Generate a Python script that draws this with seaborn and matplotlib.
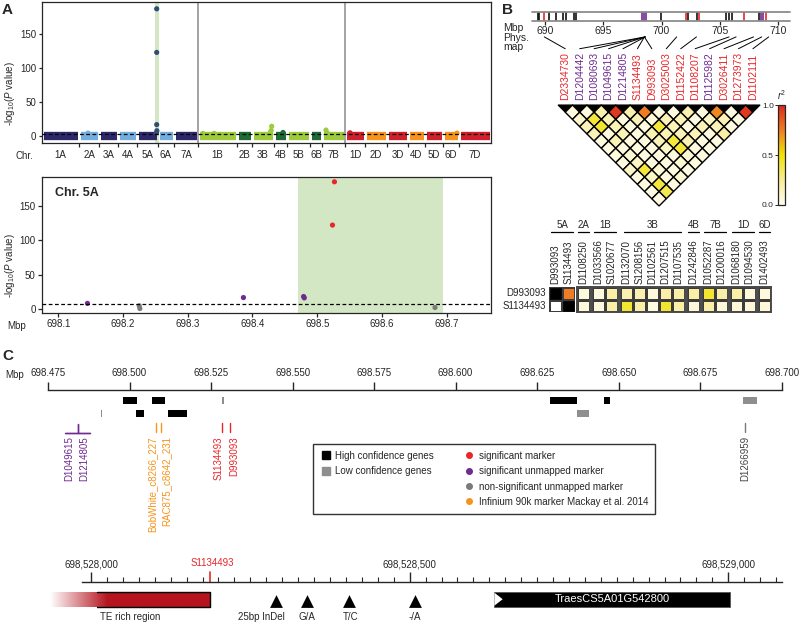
import numpy as np
import pandas as pd
import matplotlib
matplotlib.use('Agg')
import matplotlib.pyplot as plt
import seaborn as sns
from matplotlib.colors import LinearSegmentedColormap
from matplotlib.patches import Polygon, Rectangle, ConnectionPatch
from matplotlib.lines import Line2D
from matplotlib.ticker import FixedLocator, FuncFormatter
from matplotlib.cm import ScalarMappable
from matplotlib.colors import Normalize

sns.set_style('ticks')
plt.rcParams['font.family'] = ['Liberation Sans', 'DejaVu Sans']
plt.rcParams['mathtext.fontset'] = 'custom'
plt.rcParams['mathtext.rm'] = 'Liberation Sans'
plt.rcParams['mathtext.it'] = 'Liberation Sans:italic'
plt.rcParams['font.size'] = 7
plt.rcParams['axes.linewidth'] = 0.9

# ---------------- data ----------------
# A: genome-wide scan (chromosome widths = relative marker counts)
chroms = ['1A', '2A', '3A', '4A', '5A', '6A', '7A',
          '1B', '2B', '3B', '4B', '5B', '6B', '7B',
          '1D', '2D', '3D', '4D', '5D', '6D', '7D']
chrom_markers = [37, 20, 19, 19, 21, 16, 24, 39, 15, 22, 13, 23, 12, 23,
                 20, 22, 21, 17, 18, 16, 32]
chrom_colors = ['#2d2869', '#74aee0', '#2d2869', '#74aee0', '#2d2869', '#74aee0', '#2d2869',
                '#9dcb3b', '#1f6b37', '#9dcb3b', '#1f6b37', '#9dcb3b', '#1f6b37', '#9dcb3b',
                '#d0202c', '#f7941d', '#d0202c', '#f7941d', '#d0202c', '#f7941d', '#d0202c']
peak_chrom = ['5A', '5A', '5A', '5A', '5A', '3B', '3B', '3B', '7B', '7B', '4B', '2A', '1D', '1B', '1B', '6D']
peak_offset = [19.7, 19.7, 19.7, 19.9, 19.5, 19.7, 19.2, 18.5, 4, 5, 9, 9, 5, 5, 16, 14]
peak_logp = [187, 123, 17, 8, 5, 14.5, 8.5, 6, 9, 5, 5.5, 4.5, 5, 4, 4, 4.5]
genome_threshold = 3

# A: chromosome 5A detail
zoom_pos = [698.145, 698.225, 698.226, 698.386, 698.479, 698.480, 698.5236, 698.5266, 698.682]
zoom_logp = [8, 4.5, 0.5, 16.5, 18, 16, 122, 185, 2]
zoom_class = ['unmapped', 'nonsig', 'nonsig', 'unmapped', 'unmapped', 'unmapped', 'sig', 'sig', 'nonsig']
zoom_threshold = 7.3
qtl_region = (698.471, 698.694)

# B: physical map and LD
phys_pos = [689.37, 689.51, 689.94, 690.37, 690.94, 691.57, 691.77, 692.49, 692.66,
            698.33, 698.51, 698.68, 699.97, 702.11, 702.31, 703.03, 703.2,
            705.55, 705.78, 706.09, 707.04, 708.36, 708.56, 708.67, 708.96]
phys_class = ['k', 'k', 'sig', 'k', 'k', 'k', 'k', 'k', 'k',
              'unmapped', 'unmapped', 'unmapped', 'k', 'sig', 'k', 'k', 'sig',
              'k', 'k', 'k', 'sig', 'k', 'unmapped', 'unmapped', 'sig']
ld_markers = ['D2334730', 'D1204442', 'D1080693', 'D1049615', 'D1214805', 'S1134493', 'D993093',
              'D3025003', 'D1152422', 'D1108207', 'D1125982', 'D3026411', 'D1273973', 'D1102111']
ld_class = ['sig', 'unmapped', 'unmapped', 'unmapped', 'unmapped', 'sig', 'sig',
            'sig', 'sig', 'sig', 'unmapped', 'sig', 'sig', 'sig']
ld_map_pos = [689.94, 698.6, 698.6, 698.6, 698.6, 698.53, 698.53,
              701.3, 703.0, 705.8, 706.4, 707.9, 708.6, 709.2]
# r2 between marker i and i+k, one list per k
ld_r2_rows = [
    [0.05, 0.05, 0.18, 0.95, 0.18, 0.75, 0.05, 0.05, 0.18, 0.05, 0.72, 0.05, 0.95],
    [0.10, 0.40, 0.16, 0.05, 0.16, 0.05, 0.16, 0.16, 0.05, 0.12, 0.16, 0.05],
    [0.16, 0.42, 0.16, 0.05, 0.05, 0.40, 0.16, 0.05, 0.16, 0.16, 0.05],
    [0.16, 0.05, 0.16, 0.05, 0.16, 0.16, 0.16, 0.16, 0.05, 0.20],
    [0.05, 0.16, 0.05, 0.05, 0.16, 0.40, 0.16, 0.05, 0.05],
    [0.05, 0.05, 0.05, 0.05, 0.12, 0.40, 0.05, 0.05],
    [0.05, 0.08, 0.05, 0.05, 0.05, 0.08, 0.05],
    [0.05, 0.12, 0.05, 0.05, 0.08, 0.05],
    [0.12, 0.40, 0.08, 0.05, 0.05],
    [0.05, 0.12, 0.05, 0.08],
    [0.05, 0.40, 0.05],
    [0.05, 0.36],
    [0.05],
]
cross_groups = ['5A', '2A', '1B', '3B', '4B', '7B', '1D', '6D']
cross_markers = [['D993093', 'S1134493'], ['D1108250'], ['D1033566', 'S1020677'],
                 ['D1132070', 'S1208156', 'D1102561', 'D1207515', 'D1107535'],
                 ['D1242846'], ['D1052287', 'D1200016'], ['D1068180', 'D1094530'], ['D1402493']]
cross_rows = ['D993093', 'S1134493']
cross_r2_D993093 = [[np.nan, 0.75], [0.06], [0.06, 0.2], [0.18, 0.18, 0.06, 0.2, 0.2],
                    [0.2], [0.42, 0.2], [0.2, 0.06], [0.06]]
cross_r2_S1134493 = [[np.nan, np.nan], [0.06], [0.06, 0.2], [0.42, 0.2, 0.05, 0.42, 0.2],
                     [0.07], [0.2, 0.07], [0.07, 0.07], [0.07]]

# C: QTL interval genes and markers (Mbp)
gene_start = [698.4980, 698.5068, 698.5283, 698.6288, 698.6454, 698.6880,
              698.4911, 698.5021, 698.5117, 698.6373]
gene_end = [698.5022, 698.5108, 698.5289, 698.6371, 698.6473, 698.6923,
            698.4915, 698.5045, 698.5177, 698.6409]
gene_track = [1, 1, 1, 1, 1, 1, 2, 2, 2, 2]
gene_conf = ['high', 'high', 'low', 'high', 'high', 'low', 'low', 'high', 'high', 'low']
c_marker_names = ['D1049615', 'D1214805', 'BobWhite_c8266_227', 'RAC875_c8642_231',
                  'S1134493', 'D993093', 'D1266959']
c_marker_pos = [698.4841, 698.4841, 698.5080, 698.5098, 698.5283, 698.5309, 698.6888]
c_marker_class = ['unmapped', 'unmapped', 'infinium', 'infinium', 'sig', 'sig', 'nonsig']

# C: gene-level view (bp)
te_start, te_end = 698527936, 698528186
s1134493_bp = 698528186
variant_pos = [698528290, 698528339, 698528405, 698528508]
variant_labels = ['25bp InDel', 'G/A', 'T/C', '-/A']
candidate_gene = 'TraesCS5A01G542800'
candidate_start, candidate_end = 698528632, 698529003

# ---------------- styles ----------------
class_colors = {'sig': '#e8262b', 'unmapped': '#6f2b90', 'nonsig': '#7a7a7a',
                'infinium': '#f7941d', 'k': '#111111'}
ld_cmap = LinearSegmentedColormap.from_list(
    'ld', [(0, '#fffdf0'), (0.1, '#fdf6cc'), (0.25, '#f8ec94'), (0.5, '#f2e200'),
           (0.75, '#ef7d22'), (1.0, '#dc281c')])

W, H = 800, 624
fig = plt.figure(figsize=(8, 6.24), dpi=100)


def add_px_axes(x0, y0, x1, y1):
    return fig.add_axes([x0 / W, 1 - y1 / H, (x1 - x0) / W, (y1 - y0) / H])


def fig_text(x, y, s, **kw):
    fig.text(x / W, 1 - y / H, s, **kw)


# ---------------- A top: Manhattan ----------------
ax1 = add_px_axes(42, 2, 491, 143)
ends = np.cumsum(chrom_markers)
starts = ends - np.array(chrom_markers)
chrom_start = dict(zip(chroms, starts))
for s0, e0, col in zip(starts, ends, chrom_colors):
    ax1.plot([s0 + 1.5, e0 - 1.5], [0.3, 0.3], color=col, lw=6.0, solid_capstyle='butt')
ax1.axvspan(chrom_start['5A'] + 17.7, chrom_start['5A'] + 21.7, color='#d4e7c5', lw=0, zorder=0)
peaks = pd.DataFrame({'chrom': peak_chrom, 'logp': peak_logp})
peaks['x'] = [chrom_start[c] + o for c, o in zip(peak_chrom, peak_offset)]
pal = dict(zip(chroms, chrom_colors))
pal['5A'] = '#2f4f72'
sns.scatterplot(data=peaks, x='x', y='logp', hue='chrom', palette=pal, s=14,
                linewidth=0, legend=False, ax=ax1, zorder=3)
for b in (ends[6], ends[13]):
    ax1.axvline(b, color='#a3a3a3', lw=1.4, zorder=1)
ax1.axhline(genome_threshold, color='black', lw=0.9, ls=(0, (3, 2)), zorder=4)
ax1.set_xlim(0, ends[-1])
ax1.set_ylim(-10, 197)
ax1.set_yticks([0, 50, 100, 150])
ax1.set_xticks(list(ends[:-1]))
ax1.set_xticklabels([])
ax1.set_xticks((starts + ends) / 2, minor=True)
ax1.set_xticklabels(chroms, minor=True)
ax1.tick_params(axis='x', which='minor', length=0, pad=5, labelsize=7)
ax1.tick_params(axis='x', which='major', length=3, width=0.9)
ax1.tick_params(axis='y', length=2.5, width=0.9, labelsize=7, pad=1.5)
ax1.set_xlabel('')
ax1.set_ylabel(r'-log$_{10}$($P$ value)', fontsize=7)
ax1.yaxis.set_label_coords(-0.056, 0.35)
fig_text(24, 156, 'Chr.', ha='center', va='center', fontsize=7)

# ---------------- A bottom: chr 5A ----------------
ax2 = add_px_axes(42, 177, 491, 313)
ax2.axvspan(*qtl_region, color='#d4e7c5', lw=0, zorder=0)
zdf = pd.DataFrame({'pos': zoom_pos, 'logp': zoom_logp, 'cls': zoom_class})
sns.scatterplot(data=zdf, x='pos', y='logp', hue='cls', palette=class_colors, s=14,
                linewidth=0, legend=False, ax=ax2, zorder=3)
ax2.axhline(zoom_threshold, color='black', lw=0.9, ls=(0, (3, 2)), zorder=4)
ax2.set_xlim(698.0748, 698.7685)
ax2.set_ylim(-6, 192)
ax2.set_xticks([698.1, 698.2, 698.3, 698.4, 698.5, 698.6, 698.7])
ax2.set_xticklabels(['698.1', '698.2', '698.3', '698.4', '698.5', '698.6', '698.7'])
ax2.set_yticks([0, 50, 100, 150])
ax2.tick_params(axis='both', length=3, width=0.9, labelsize=7, pad=1.5)
ax2.set_xlabel('')
ax2.set_ylabel(r'-log$_{10}$($P$ value)', fontsize=7)
ax2.yaxis.set_label_coords(-0.056, 0.35)
ax2.text(0.03, 0.86, 'Chr. 5A', transform=ax2.transAxes, fontsize=9, fontweight='bold')
fig_text(17, 326, 'Mbp', ha='center', va='center', fontsize=7)

fig_text(2, 3, 'A', ha='left', va='top', fontsize=11, fontweight='bold')
fig_text(502, 3, 'B', ha='left', va='top', fontsize=11, fontweight='bold')
fig_text(2, 349, 'C', ha='left', va='top', fontsize=11, fontweight='bold')

# ---------------- B: physical map ----------------
axp = add_px_axes(535, 11.7, 787, 20.7)
axp.set_xlim(689.14, 710.77)
axp.set_ylim(0, 1)
axp.vlines(phys_pos, 0, 1, colors=[class_colors[c] for c in phys_class], lw=1.2)
for side in ('left', 'right'):
    axp.spines[side].set_visible(False)
for side in ('top', 'bottom'):
    axp.spines[side].set_color('#8c8c8c')
    axp.spines[side].set_linewidth(1.3)
for xa, xb in ((688.87, 689.07), (710.84, 711.04)):
    for yy in (0, 1):
        axp.plot([xa, xb], [yy, yy], color='#8c8c8c', lw=1.3, clip_on=False)
axp.set_yticks([])
axp.set_xticks([690, 695, 700, 705, 710])
axp.tick_params(axis='x', length=3, width=0.9, labelsize=7.5, pad=1)
fig_text(503, 28, 'Mbp', ha='left', va='center', fontsize=7.5)
fig_text(503, 38, 'Phys.', ha='left', va='center', fontsize=7.5)
fig_text(503, 47, 'map', ha='left', va='center', fontsize=7.5)

# ---------------- B: LD triangle ----------------
axl = add_px_axes(558, 105, 760.1, 206)
axl.set_xlim(-0.5, 13.5)
axl.set_ylim(-7, 0)
axl.axis('off')
for i in range(len(ld_markers)):
    axl.add_patch(Polygon([(i - 0.5, 0), (i, -0.5), (i + 0.5, 0)], closed=True,
                          facecolor='black', edgecolor='black', lw=0.8, clip_on=False))
for k, row in enumerate(ld_r2_rows, start=1):
    for i, r in enumerate(row):
        cx, cy = i + k / 2, -k / 2
        axl.add_patch(Polygon([(cx - 0.5, cy), (cx, cy + 0.5), (cx + 0.5, cy), (cx, cy - 0.5)],
                              closed=True, facecolor=ld_cmap(r), edgecolor='black', lw=1.0,
                              clip_on=False))
for i, (name, cls) in enumerate(zip(ld_markers, ld_class)):
    axl.text(i, 0.35, name, rotation=90, ha='center', va='bottom', fontsize=7.5,
             color=class_colors[cls], clip_on=False)
for i, mpos in enumerate(ld_map_pos):
    con = ConnectionPatch(xyA=(mpos, -1.8), coordsA=axp.transData,
                          xyB=(i, 3.9), coordsB=axl.transData, color='black', lw=0.7)
    fig.add_artist(con)

axcb = add_px_axes(778, 105, 785, 205)
cb = fig.colorbar(ScalarMappable(norm=Normalize(0, 1), cmap=ld_cmap), cax=axcb, ticks=[0, 0.5, 1])
cb.ax.yaxis.set_ticks_position('left')
cb.ax.set_yticklabels(['0.0', '0.5', '1.0'])
cb.ax.tick_params(labelsize=6, length=2, width=0.7, pad=1)
cb.outline.set_linewidth(0.9)
axcb.text(0.5, 1.03, r'$r^2$', transform=axcb.transAxes, ha='center', va='bottom', fontsize=7)

# ---------------- B: cross-chromosome LD ----------------
col_w, gap = 13, 2
x0 = 549
for g, (grp, names) in enumerate(zip(cross_groups, cross_markers)):
    w = col_w * len(names)
    axg = add_px_axes(x0, 287, x0 + w, 312)
    df = pd.DataFrame([cross_r2_D993093[g], cross_r2_S1134493[g]], index=cross_rows, columns=names)
    sns.heatmap(df, ax=axg, cmap=ld_cmap, vmin=0, vmax=1, cbar=False, mask=df.isna(),
                linewidths=1, linecolor='#3c3c3c', xticklabels=True, yticklabels=(g == 0))
    if grp == '5A':
        for r, c in ((0, 0), (1, 1)):
            axg.add_patch(Rectangle((c, r), 1, 1, facecolor='black', edgecolor='#3c3c3c', lw=1))
    else:
        for sp in axg.spines.values():
            sp.set_visible(True)
            sp.set_color('#4a4a4a')
            sp.set_linewidth(1.4)
    axg.xaxis.tick_top()
    axg.set_xticklabels(names, rotation=90, fontsize=7)
    axg.tick_params(length=0, pad=2)
    if g == 0:
        axg.set_yticklabels(cross_rows, rotation=0, fontsize=7)
    axg.set_xlabel('')
    axg.set_ylabel('')
    axg.plot([0.06, 0.94], [3.22, 3.22], transform=axg.transAxes, color='black', lw=0.9, clip_on=False)
    axg.text(0.5, 3.3, grp, transform=axg.transAxes, ha='center', va='bottom', fontsize=7)
    x0 += w + gap

# ---------------- C: QTL interval ----------------
axc = add_px_axes(48, 390, 781.7, 540)
axc.set_xlim(698.475, 698.700)
axc.set_ylim(150, 0)
for sp in ('left', 'right', 'bottom'):
    axc.spines[sp].set_visible(False)
axc.spines['top'].set_linewidth(1.0)
axc.xaxis.tick_top()
axc.set_xticks(np.round(np.arange(698.475, 698.7001, 0.025), 3))
axc.xaxis.set_major_formatter(FuncFormatter(lambda v, p: f'{v:.3f}'))
axc.tick_params(axis='x', length=6, width=1.0, labelsize=7, pad=3)
axc.set_yticks([])
fig_text(15, 375, 'Mbp', ha='center', va='center', fontsize=7)

track_y = {1: 10.5, 2: 23.5}
for s0, e0, tr, conf in zip(gene_start, gene_end, gene_track, gene_conf):
    axc.add_patch(Rectangle((s0, track_y[tr] - 3.5), e0 - s0, 7,
                            facecolor='black' if conf == 'high' else '#8e8e8e', lw=0))

label_nudge = [-0.0026, 0.0020, -0.00104, 0.00153, -0.0010, 0.0011, 0.0]
for name, pos, cls, nud in zip(c_marker_names, c_marker_pos, c_marker_class, label_nudge):
    col = class_colors[cls]
    if cls == 'unmapped':
        axc.plot([pos, pos], [34, 43], color=col, lw=1)
        axc.plot([pos - 0.0038, pos + 0.0038], [43, 43], color=col, lw=1)
        axc.text(pos + nud, 46, name, rotation=90, ha='center', va='top', fontsize=7, color=col)
    else:
        axc.plot([pos, pos], [33, 42], color=col, lw=1)
        axc.text(pos + nud, 46, name, rotation=90, ha='center', va='top', fontsize=7,
                 color=col if cls != 'nonsig' else '#444444')

handles = [Line2D([], [], marker='s', ls='', color='black', markersize=6),
           Line2D([], [], marker='s', ls='', color='#8e8e8e', markersize=6),
           Line2D([], [], ls='', marker=''), Line2D([], [], ls='', marker=''),
           Line2D([], [], marker='o', ls='', color=class_colors['sig'], markersize=4),
           Line2D([], [], marker='o', ls='', color=class_colors['unmapped'], markersize=4),
           Line2D([], [], marker='o', ls='', color=class_colors['nonsig'], markersize=4),
           Line2D([], [], marker='o', ls='', color=class_colors['infinium'], markersize=4)]
labels = ['High confidence genes', 'Low confidence genes', '', '',
          'significant marker', 'significant unmapped marker',
          'non-significant unmapped marker', 'Infinium 90k marker Mackay et al. 2014']
leg = axc.legend(handles, labels, ncol=2, loc='upper left', bbox_to_anchor=(313 / W, 1 - 444 / H),
                 bbox_transform=fig.transFigure, frameon=True, fancybox=False, edgecolor='black',
                 fontsize=7, columnspacing=3.0, handletextpad=0.4, borderpad=0.7, labelspacing=0.55,
                 handlelength=1.2, borderaxespad=0)
leg.get_frame().set_linewidth(1.0)

# ---------------- C: gene-level view ----------------
axg2 = add_px_axes(40, 581.7, 781.7, 624)
xl = (698527920, 698529083.8)
te_grad = LinearSegmentedColormap.from_list('te', [(0, '#ffffff'), (0.36, '#b5141e'), (1, '#b5141e')])
axg2.imshow(np.linspace(0, 1, 256)[None, :], extent=(te_start, te_end, 25, 10),
            aspect='auto', cmap=te_grad, interpolation='bilinear')
axg2.plot([698528010, te_end, te_end, 698528010], [10, 10, 25, 25], color='black', lw=1)
axg2.text((te_start + te_end) / 2, 35.5, 'TE rich region', ha='center', va='center', fontsize=7)
axg2.scatter(variant_pos, [19.3] * len(variant_pos), marker='^', s=85, color='black', lw=0)
variant_nudge = [-22, 0, 2, 0]
for vp, vl, nud in zip(variant_pos, variant_labels, variant_nudge):
    axg2.text(vp + nud, 35.5, vl, ha='center', va='center', fontsize=7)
axg2.add_patch(Rectangle((candidate_start, 10), candidate_end - candidate_start, 15,
                         facecolor='black', edgecolor='#555555', lw=0.6))
axg2.add_patch(Polygon([(candidate_start + 1, 11), (candidate_start + 14, 17.5),
                        (candidate_start + 1, 24)], closed=True, facecolor='white', lw=0))
axg2.text((candidate_start + candidate_end) / 2, 17.5, candidate_gene, ha='center', va='center',
          fontsize=8, color='white')
axg2.plot([s1134493_bp, s1134493_bp], [0, -10], color=class_colors['sig'], lw=1.2, clip_on=False)
axg2.text(s1134493_bp + 5, -19, 'S1134493', ha='center', va='center', fontsize=7,
          color=class_colors['sig'])
axg2.set_xlim(*xl)
axg2.set_ylim(42.3, 0)
for sp in ('left', 'right', 'bottom'):
    axg2.spines[sp].set_visible(False)
axg2.spines['top'].set_bounds(698527986, 698529084)
axg2.spines['top'].set_linewidth(1.0)
axg2.xaxis.tick_top()
axg2.xaxis.set_major_locator(FixedLocator([698528000, 698528500, 698529000]))
axg2.xaxis.set_minor_locator(FixedLocator(np.arange(698528000, 698529076, 25)))
axg2.xaxis.set_major_formatter(FuncFormatter(lambda v, p: f'{int(v):,}'))
axg2.tick_params(axis='x', which='major', length=7, width=1.0, labelsize=7, pad=2)
axg2.tick_params(axis='x', which='minor', length=3.5, width=0.8)
axg2.set_yticks([])

fig.savefig('out.png', dpi=100)
